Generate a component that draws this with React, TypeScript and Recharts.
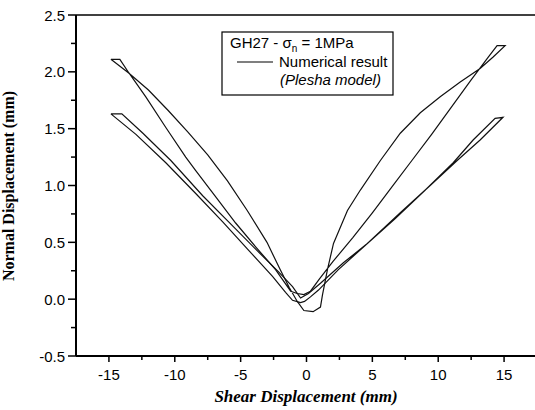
import React from 'react';
import { LineChart, Line, XAxis, YAxis, ReferenceLine } from 'recharts';

type Pt = [number, number];

// Tick values
const xTicks = [-15, -12.5, -10, -7.5, -5, -2.5, 0, 2.5, 5, 7.5, 10, 12.5, 15];
const yTicks = [-0.5, -0.25, 0, 0.25, 0.5, 0.75, 1, 1.25, 1.5, 1.75, 2, 2.25, 2.5];

// Outer (first) cycle branches
const outerCurvedLeft: Pt[] = [
  [-14.85, 2.11], [-13.5, 1.99], [-12, 1.84], [-10.5, 1.66], [-9, 1.47], [-7.5, 1.27],
  [-6, 1.04], [-4.5, 0.78], [-3, 0.5], [-2, 0.26], [-1.3, 0.1], [-0.7, -0.02],
  [-0.2, -0.1], [0.5, -0.11],
];
const outerCurvedRight: Pt[] = [
  [1.06, -0.07], [1.21, 0.035], [1.59, 0.26], [2.05, 0.49], [3.11, 0.78], [4.09, 0.96],
  [5.61, 1.22], [7.12, 1.46], [8.64, 1.64], [10.15, 1.78], [11.67, 1.91], [13.18, 2.03],
  [14.17, 2.13], [15.08, 2.23],
];
const outerStraightRight: Pt[] = [
  [14.47, 2.23], [13.8, 2.13], [12.5, 1.93], [11, 1.69], [9.5, 1.45], [8, 1.22],
  [6.5, 0.99], [5, 0.76], [3.5, 0.54], [2, 0.33], [1, 0.18], [0.3, 0.07], [-0.2, 0.04],
  [-0.7, 0.05], [-1.2, 0.07],
];
const outerStraightLeft: Pt[] = [
  [-2.35, 0.26], [-3.86, 0.46], [-5.38, 0.67], [-6.89, 0.9], [-8.41, 1.13], [-9.17, 1.25],
  [-10.68, 1.51], [-12.2, 1.78], [-13.48, 1.99], [-14.17, 2.11], [-14.85, 2.11],
];

// Inner (second) cycle branches
const innerLeftA: Pt[] = [
  [-14.85, 1.63], [-12.95, 1.45], [-10.68, 1.2], [-8.41, 0.93], [-6.36, 0.68], [-4.39, 0.43],
  [-2.58, 0.2], [-1.59, 0.06], [-1.06, -0.01], [-0.45, -0.03], [-0.15, -0.02],
];
const innerRightB: Pt[] = [
  [0.3, 0.02], [0.91, 0.08], [2.42, 0.26], [4.24, 0.45], [6.74, 0.71], [9.02, 0.96],
  [11.14, 1.2], [12.65, 1.4], [14.32, 1.59], [14.92, 1.6],
];
const innerRightA: Pt[] = [
  [13.18, 1.4], [11.44, 1.22], [9.39, 1.0], [7.12, 0.76], [4.62, 0.49], [2.8, 0.32],
  [1.06, 0.14], [0.15, 0.05], [-0.45, 0.01],
];
const innerLeftB: Pt[] = [
  [-1.06, 0.11], [-2.12, 0.24], [-3.86, 0.44], [-5.91, 0.68], [-7.88, 0.91], [-10.3, 1.22],
  [-12.42, 1.46], [-14.02, 1.63], [-14.85, 1.63],
];

const toData = (pts: Pt[]) => pts.map(([x, y]) => ({ x, y }));
const outerLoop = toData([...outerCurvedLeft, ...outerCurvedRight, ...outerStraightRight, ...outerStraightLeft]);
const innerLoop = toData([...innerLeftA, ...innerRightB, ...innerRightA, ...innerLeftB]);

const SANS = '"Liberation Sans", Arial, Helvetica, sans-serif';
const SERIF = '"Liberation Serif", "Times New Roman", serif';

const XTick = (props: any) => {
  const { x, y, payload } = props;
  const v = payload.value as number;
  const major = Math.abs(v % 5) < 1e-6;
  return (
    <g>
      <line x1={x} y1={y} x2={x} y2={y + (major ? 6 : 4)} stroke="#000" strokeWidth={1.5} />
      {major && (
        <text x={x} y={y + 24} textAnchor="middle" fontFamily={SANS} fontSize={15} fill="#000">
          {String(v)}
        </text>
      )}
    </g>
  );
};

const YTick = (props: any) => {
  const { x, y, payload } = props;
  const v = payload.value as number;
  const major = Math.abs(v * 2 - Math.round(v * 2)) < 1e-6;
  return (
    <g>
      <line x1={x - (major ? 8 : 5)} y1={y} x2={x} y2={y} stroke="#000" strokeWidth={1.5} />
      {major && (
        <text x={x - 11} y={y + 5.5} textAnchor="end" fontFamily={SANS} fontSize={15} fill="#000">
          {v.toFixed(1)}
        </text>
      )}
    </g>
  );
};

export default function App() {
  return (
    <div style={{ position: 'absolute', left: 0, top: 0, width: 535, height: 410, overflow: 'hidden', background: '#fff' }}>
      <LineChart width={540} height={410} margin={{ top: 15, right: 3, bottom: 0, left: 0 }}>
        <XAxis
          type="number"
          dataKey="x"
          domain={[-17.5, 17.5]}
          ticks={xTicks}
          interval={0}
          tickSize={0}
          tickMargin={0}
          tickLine={false}
          tick={XTick}
          height={54}
          allowDataOverflow
          axisLine={{ stroke: '#000', strokeWidth: 2 }}
        />
        <YAxis
          type="number"
          dataKey="y"
          domain={[-0.5, 2.5]}
          ticks={yTicks}
          interval={0}
          tickSize={0}
          tickMargin={0}
          tickLine={false}
          tick={YTick}
          width={76}
          allowDataOverflow
          axisLine={{ stroke: '#000', strokeWidth: 2 }}
        />
        <ReferenceLine y={2.5} stroke="#000" strokeWidth={1.6} />
        <ReferenceLine x={17.5} stroke="#000" strokeWidth={1.6} />
        <Line data={outerLoop} dataKey="y" type="linear" stroke="#111" strokeWidth={1.2} dot={false} isAnimationActive={false} />
        <Line data={innerLoop} dataKey="y" type="linear" stroke="#111" strokeWidth={1.2} dot={false} isAnimationActive={false} />
        <g>
          <rect x={222} y={32} width={171} height={63} fill="#fff" stroke="#000" strokeWidth={1.2} />
          <text x={230} y={48} fontFamily={SANS} fontSize={15} fill="#000">
            GH27 - σ<tspan fontSize={10} dy={4}>n</tspan><tspan dy={-4}> = 1MPa</tspan>
          </text>
          <line x1={237} y1={62} x2={273} y2={62} stroke="#000" strokeWidth={1.2} />
          <text x={279} y={67} fontFamily={SANS} fontSize={15} fill="#000">Numerical result</text>
          <text x={280} y={85} fontFamily={SANS} fontSize={15} fontStyle="italic" fill="#000">(Plesha model)</text>
          <text x={306} y={402} textAnchor="middle" fontFamily={SERIF} fontSize={17} fontWeight="bold" fontStyle="italic" fill="#000">
            Shear Displacement (mm)
          </text>
          <text x={14} y={186} transform="rotate(-90 14 186)" textAnchor="middle" fontFamily={SERIF} fontSize={16} fontWeight="bold" fill="#000">
            Normal Displacement (mm)
          </text>
        </g>
      </LineChart>
    </div>
  );
}
